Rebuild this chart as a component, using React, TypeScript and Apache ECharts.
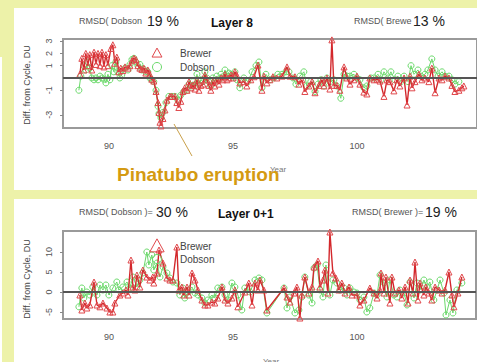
import React, { useEffect, useRef } from "react";
import * as echarts from "echarts";

// ---------- data ----------
const YEAR_LABELS = [90, 95, 100];
const L8_TICKS = [-3, -1, 1, 2, 3];
const L01_TICKS = [-5, 0, 5, 10];

const brewerL8: [number, number][] = [
  [88.83, 0.3], [88.91, 1.6], [88.99, 0.65], [89.07, 2.0], [89.15, 1.0], [89.23, 1.9], [89.31, 0.65], [89.4, 2.1],
  [89.48, 1.1], [89.56, 2.0], [89.64, 1.0], [89.72, 2.1], [89.8, 0.9], [89.88, 1.9], [89.96, 1.0], [90.08, 2.4],
  [90.16, 2.7], [90.24, 1.2], [90.32, 1.7], [90.4, 0.5], [90.48, 0.8], [90.56, 0.6], [90.65, 0.9], [90.77, 0.8],
  [90.85, 1.0], [90.93, 1.4], [91.01, 1.6], [91.09, 1.5], [91.17, 1.0], [91.25, 0.8], [91.33, 0.7], [91.41, 0.8],
  [91.49, 0.4], [91.57, 0.65], [91.65, 0.3], [91.73, -0.1], [91.81, -0.25], [91.9, -1.1], [91.98, -2.0], [92.02, -2.8],
  [92.06, -3.6], [92.1, -3.9], [92.18, -3.3], [92.26, -2.6], [92.34, -1.8], [92.46, -1.5], [92.54, -1.5], [92.66, -1.5],
  [92.74, -2.0], [92.82, -2.4], [92.9, -1.9], [92.98, -1.1], [93.06, -0.8], [93.15, -1.0], [93.23, -0.3], [93.31, -0.8],
  [93.39, -0.6], [93.47, -0.9], [93.55, -0.15], [93.63, -1.0], [93.71, -0.6], [93.79, -0.5], [93.87, 0.25], [93.95, -0.15],
  [94.03, -0.6], [94.11, -1.0], [94.19, -0.3], [94.27, -0.65], [94.35, -0.15], [94.44, -0.5], [94.52, 0], [94.6, -0.15],
  [94.68, 0.3], [94.76, -0.15], [94.84, 0], [94.92, 0.25], [95.0, 0], [95.08, 0.5], [95.16, 0.2], [95.28, -0.4],
  [95.44, -0.3], [95.56, -0.65], [95.72, -0.15], [95.85, 0.1], [96.01, 1.05], [96.17, -1.0], [96.25, 0.15], [96.37, -0.4],
  [96.49, -0.15], [96.61, 0.1], [96.77, 0], [96.98, 0.15], [97.18, 0.9], [97.3, 0.15], [97.5, 0.1], [97.66, -0.5],
  [97.78, -0.15], [97.9, -1.1], [98.06, -0.65], [98.19, -0.3], [98.31, -1.2], [98.47, -0.6], [98.59, -0.15], [98.67, -0.65],
  [98.79, 0], [98.91, -0.9], [98.99, 3.1], [99.07, -0.6], [99.19, -0.6], [99.31, -1.0], [99.48, 0.9], [99.6, 0],
  [99.72, -0.5], [99.88, -0.15], [100.0, 0.15], [100.12, -0.5], [100.28, -1.15], [100.4, -1.3], [100.52, 0], [100.69, -0.15],
  [100.81, -0.1], [100.93, -0.25], [101.09, -1.5], [101.21, -0.15], [101.33, -0.3], [101.49, -1.05], [101.61, -0.15], [101.73, -0.65],
  [101.9, 0], [102.02, -2.2], [102.14, 0.15], [102.22, -0.8], [102.34, -0.3], [102.5, 0.3], [102.62, -0.15], [102.74, 0],
  [102.9, -0.3], [103.02, 0.8], [103.15, -1.2], [103.31, 0], [103.43, -0.15], [103.55, 0.15], [103.71, 0], [103.83, -0.6],
  [103.95, -1.1], [104.11, -1.0], [104.23, -0.8], [104.31, -0.65],
];

const dobsonL8: [number, number][] = [
  [88.79, -1.0], [88.87, 0.15], [88.99, 1.0], [89.07, 0.65], [89.15, 1.3], [89.23, 0.8], [89.31, 0], [89.4, -0.15],
  [89.48, 0], [89.56, -0.15], [89.64, 0.15], [89.72, 0], [89.8, -0.1], [89.88, -0.4], [89.96, 0.3], [90.04, -0.15],
  [90.12, 1.0], [90.2, 0.5], [90.28, 1.3], [90.36, 0.5], [90.44, 0], [90.52, 0.25], [90.65, 0.8], [90.77, 0.65],
  [90.85, 1.1], [90.93, 1.5], [91.01, 1.6], [91.09, 1.3], [91.17, 1.0], [91.25, 1.1], [91.33, 0.65], [91.41, 0.7],
  [91.49, 0.5], [91.57, 0.5], [91.65, 0], [91.73, -0.15], [91.81, -0.3], [91.9, -1.0], [91.98, -2.3], [92.02, -2.9],
  [92.1, -3.25], [92.18, -2.8], [92.3, -2.0], [92.42, -1.5], [92.54, -1.5], [92.66, -1.5], [92.78, -1.8], [92.9, -1.4],
  [93.02, -1.1], [93.15, -1.0], [93.23, -0.5], [93.31, -0.65], [93.39, -0.3], [93.47, -0.65], [93.55, 0.3], [93.63, -0.5],
  [93.71, -0.15], [93.79, -0.3], [93.87, 0.5], [93.95, 0], [94.03, -0.3], [94.11, -0.65], [94.19, 0], [94.27, -0.3],
  [94.35, 0.15], [94.44, -0.15], [94.52, 0.3], [94.6, 0.1], [94.68, 0.65], [94.76, 0.15], [94.84, 0.4], [94.92, 0.3],
  [95.0, 0.15], [95.08, 0.5], [95.16, -0.15], [95.28, -0.8], [95.44, 0], [95.6, -0.3], [95.77, 0.5], [95.93, 1.0],
  [96.05, 1.3], [96.17, -0.8], [96.33, 0.3], [96.49, -0.15], [96.65, 0], [96.81, 0.3], [96.98, 0.3], [97.14, 0.5],
  [97.26, 0.5], [97.42, 0], [97.54, -0.5], [97.7, 0.15], [97.86, 0.5], [97.98, -0.65], [98.14, -0.3], [98.31, -1.1],
  [98.43, -0.5], [98.55, -0.15], [98.67, -0.65], [98.79, 0], [98.91, -0.3], [99.07, -0.15], [99.19, -0.65], [99.35, -1.65],
  [99.48, 0.3], [99.6, 0.15], [99.72, 0.15], [99.88, 0.3], [100.0, 0], [100.12, -0.15], [100.28, -0.8], [100.4, -0.65],
  [100.56, 0], [100.69, 0], [100.85, 0.3], [100.97, -0.15], [101.09, 0.5], [101.25, 0], [101.37, 0.5], [101.53, -0.15],
  [101.65, 0.15], [101.77, -0.3], [101.9, 0.15], [102.06, -0.3], [102.18, 1.0], [102.3, 0.3], [102.46, 0.65], [102.58, 0.15],
  [102.74, 0.3], [102.86, 0.65], [103.02, 1.55], [103.15, 0.65], [103.27, 0.15], [103.43, 0.5], [103.55, 0.15], [103.71, 0.15],
  [103.83, -0.15], [103.95, -0.5], [104.11, -0.3],
];

const brewerL01: [number, number][] = [
  [88.83, -0.75], [88.91, -4.5], [89.03, -2.75], [89.11, -4], [89.23, -3.25], [89.4, 2.5], [89.52, -3.25], [89.64, -3.7],
  [89.76, -2.75], [89.92, -4], [90.04, -5], [90.16, -5], [90.24, -2.75], [90.44, -0.75], [90.56, -0.25], [90.69, 0.5],
  [90.77, -0.75], [90.89, 8], [90.97, 1.25], [91.05, 0.5], [91.13, 4.25], [91.25, 1.25], [91.37, 5.5], [91.53, 3.75],
  [91.65, 3], [91.77, 3.75], [91.81, 2.25], [91.94, 4.75], [92.02, 10.5], [92.18, 7.25], [92.34, 3.5], [92.46, 3],
  [92.58, 3], [92.74, 11.25], [92.82, 0.5], [92.94, 1.25], [93.02, -0.75], [93.15, 1.25], [93.23, -0.75], [93.35, 4.75],
  [93.47, 3], [93.59, 0.5], [93.75, -2], [93.87, -3.25], [93.99, -3.25], [94.15, -2.5], [94.27, -2.75], [94.39, -1.5],
  [94.56, 1.25], [94.68, -2], [94.8, -2.75], [94.96, -1.5], [95.08, 0.5], [95.2, -3.7],
  [95.48, 0], [95.64, 2.25], [95.77, -3.25], [95.89, 2.25], [96.01, 0.5], [96.09, 3], [96.25, 0.5], [96.37, -4.5],
  [97.06, 1], [97.18, -1.25], [97.3, -2.5], [97.46, -0.25], [97.58, 1.25], [97.7, -6.5], [97.78, -0.75], [97.9, 3.75],
  [98.06, -0.25], [98.19, 1.25], [98.27, 6.25], [98.43, 7.75], [98.51, 1.25], [98.63, 3], [98.71, 5.5], [98.83, -0.25],
  [98.91, 15], [99.03, 4.75], [99.15, 3.5], [99.27, 0.5], [99.39, 2.25], [99.52, -0.25], [99.68, 1.25], [99.8, -0.75],
  [100.0, -0.75], [100.12, -3.25], [100.28, -2], [100.52, 1], [100.69, -0.25], [100.81, -1.5], [100.93, 0.5], [100.97, 4.75],
  [101.09, -0.25], [101.17, 3.75], [101.33, -2.75], [101.41, 3.75], [101.53, -0.25], [101.69, 0.5], [101.81, -1.5], [101.94, 1.25],
  [102.06, -2.75], [102.14, 3], [102.26, -0.25], [102.34, 7.5], [102.46, -2], [102.54, 2.25], [102.7, -0.75], [102.78, 1.25],
  [102.9, -0.25], [103.02, -2], [103.15, 1.25], [103.31, 0.5], [103.43, -0.25], [103.55, 0.5], [103.71, 5], [103.83, -0.75],
  [103.91, -3.7], [104.07, -0.25], [104.23, 3.75],
];

const dobsonL01: [number, number][] = [
  [88.79, -3.7], [88.91, 1], [88.99, -1.5], [89.11, 0], [89.23, -0.75], [89.35, 1.25], [89.52, -0.75], [89.64, 1.75],
  [89.76, 0.5], [89.88, 1.75], [90.0, -0.75], [90.16, 1], [90.32, 2.5], [90.4, 0.5], [90.56, 1.25], [90.73, 2.5],
  [90.85, 1], [90.97, 3.75], [91.13, 1.25], [91.25, 3], [91.37, 4.75], [91.53, 10], [91.61, 6.75], [91.73, 9.25],
  [91.81, 5.5], [91.94, 7.25], [92.06, 3.75], [92.18, 6.25], [92.34, 4.75], [92.46, 3.5], [92.58, 2.5], [92.74, 2.25],
  [92.86, -0.75], [92.98, 1], [93.06, -1.5], [93.19, 0], [93.35, 1.25], [93.47, -0.25], [93.59, -0.75], [93.75, -1.5],
  [93.87, -2.75], [93.99, -2], [94.15, -0.75], [94.27, -1.5], [94.39, 1], [94.56, 1.25], [94.68, -0.75], [94.8, -2],
  [94.96, 2.25], [95.08, 1.25], [95.2, -0.75],
  [95.36, -4.5], [95.48, 1], [95.69, 0], [95.89, 3], [96.05, 3.5], [96.17, 3], [96.37, -5.25], [97.06, 1],
  [97.18, -4], [97.3, -1.25], [97.5, -5.25], [97.66, -4.5], [97.78, -1.25], [97.9, 3.75], [98.06, -0.75], [98.19, -2.75],
  [98.27, 6], [98.39, 6.75], [98.51, 0.5], [98.63, -1.25], [98.75, 6.75], [98.91, -0.75], [99.03, 3], [99.19, 2.25],
  [99.31, 0.5], [99.48, 1], [99.6, -0.75], [99.72, 1], [99.88, 0], [100.0, -0.25], [100.12, -2], [100.28, -1.25],
  [100.4, -5], [100.52, -4], [100.69, -0.25], [100.81, -0.75], [100.93, 4.25], [101.09, 2.25], [101.21, -1.25], [101.33, 3],
  [101.49, -0.75], [101.61, -1.25], [101.73, 0.5], [101.9, -0.25], [102.02, -3.25], [102.14, 2.5], [102.3, -1.5], [102.42, 2.25],
  [102.54, 0.5], [102.7, 3], [102.82, 1.25], [102.94, 2.5], [103.1, -2], [103.23, 0.5], [103.35, 3], [103.51, -0.25],
  [103.59, -5.75], [103.75, -2], [103.87, -5.25], [104.03, 0.5], [104.23, 2.25],
];

const PANELS = [
  { layer: "Layer 8", dobsonLabel: "RMSD( Dobson", dobsonPct: "19 %", brewerLabel: "RMSD( Brewe", brewerPct: "13 %" },
  { layer: "Layer 0+1", dobsonLabel: "RMSD( Dobson )=", dobsonPct: "30 %", brewerLabel: "RMSD( Brewer )=", brewerPct: "19 %" },
];
const Y_TITLE = "Diff. from Cycle, DU";
const X_TITLE = "Year";
const ANNOTATION = "Pinatubo eruption";
const LEGEND_NAMES = ["Brewer", "Dobson"];

// ---------- styles ----------
const FONT = "'Liberation Sans', Arial, Helvetica, sans-serif";
const RED_LINE = "#d3282c";
const RED_MARK = "#e0484c";
const GREEN = "#6ad96a";
const BG = "#edf2a9";

export default function App() {
  const ref = useRef<HTMLDivElement>(null);

  useEffect(() => {
    if (!ref.current) return;
    const chart = echarts.init(ref.current, undefined, { renderer: "svg" });

    const grids = [
      { left: 63, top: 39, width: 414, height: 89 },
      { left: 63, top: 231, width: 413, height: 88 },
    ];
    const yRanges = [
      { min: -4.07, max: 3.17, ticks: L8_TICKS },
      { min: -6.75, max: 15.25, ticks: L01_TICKS },
    ];
    const xMax = [104.84, 104.8];

    const mkLine = (data: [number, number][], idx: number, kind: "b" | "d") => ({
      type: "line",
      name: kind === "b" ? LEGEND_NAMES[0] : LEGEND_NAMES[1],
      xAxisIndex: idx,
      yAxisIndex: idx,
      data,
      symbol: kind === "b" ? "triangle" : "circle",
      symbolSize: kind === "b" ? 6 : 6,
      showAllSymbol: true,
      z: kind === "b" ? 4 : 3,
      lineStyle: { color: kind === "b" ? RED_LINE : GREEN, width: kind === "b" ? 1.4 : 1 },
      itemStyle: {
        color: "rgba(0,0,0,0)",
        borderColor: kind === "b" ? RED_MARK : GREEN,
        borderWidth: 1,
      },
      emphasis: { disabled: true },
      ...(kind === "b"
        ? {
            markLine: {
              silent: true,
              symbol: ["none", "none"],
              label: { show: false },
              lineStyle: { color: "#555", width: 2, type: "solid" },
              data: [{ yAxis: 0 }],
            },
          }
        : {}),
    });

    const headerTexts: any[] = [];
    const panelTops = [21, 212];
    PANELS.forEach((p, i) => {
      const y = panelTops[i];
      const small = { fill: "#555", font: `9px ${FONT}`, verticalAlign: "middle" };
      const big = { fill: "#222", font: `14px ${FONT}`, verticalAlign: "middle" };
      const dl = i === 0 ? [79, 147] : [79, 156];
      const bl = i === 0 ? [354, 413] : [352, 425];
      const lx = i === 0 ? 211 : 218;
      headerTexts.push(
        { type: "text", x: dl[0], y, z: 50, style: { ...small, text: p.dobsonLabel, textAlign: "left" } },
        { type: "text", x: dl[1], y, z: 50, style: { ...big, text: p.dobsonPct, textAlign: "left" } },
        { type: "text", x: lx, y: y + 2, z: 50, style: { fill: "#111", font: `bold 12px ${FONT}`, verticalAlign: "middle", text: p.layer, textAlign: "left" } },
        { type: "text", x: bl[0], y, z: 50, style: { ...small, text: p.brewerLabel, textAlign: "left" } },
        { type: "text", x: bl[1], y, z: 50, style: { ...big, text: p.brewerPct, textAlign: "left" } }
      );
    });

    const yTitles = [85, 279].map((cy) => ({
      type: "text",
      x: 27,
      y: cy,
      rotation: Math.PI / 2,
      z: 50,
      style: { text: Y_TITLE, fill: "#444", font: `9px ${FONT}`, textAlign: "center", verticalAlign: "middle" },
    }));

    const legend = (cx: number, y1: number, y2: number, triSize: number) => [
      {
        type: "polygon",
        z: 60,
        shape: {
          points: [
            [cx, y1 - triSize * 0.55],
            [cx - triSize * 0.55, y1 + triSize * 0.45],
            [cx + triSize * 0.55, y1 + triSize * 0.45],
          ],
        },
        style: { fill: "none", stroke: RED_MARK, lineWidth: 1 },
      },
      { type: "circle", z: 60, shape: { cx, cy: y2, r: 4.5 }, style: { fill: "none", stroke: GREEN, lineWidth: 1 } },
      { type: "text", x: cx + 23, y: y1, z: 60, style: { text: LEGEND_NAMES[0], fill: "#444", font: `10px ${FONT}`, verticalAlign: "middle" } },
      { type: "text", x: cx + 23, y: y2, z: 60, style: { text: LEGEND_NAMES[1], fill: "#444", font: `10px ${FONT}`, verticalAlign: "middle" } },
    ];

    const option: any = {
      animation: false,
      backgroundColor: BG,
      grid: grids.map((g) => ({
        ...g,
        show: true,
        backgroundColor: "#fff",
        borderColor: "#9a9a9a",
        borderWidth: 2,
      })),
      xAxis: grids.map((_, i) => ({
        type: "value",
        gridIndex: i,
        min: 88.15,
        max: xMax[i],
        axisLine: { show: false },
        splitLine: { show: false },
        axisTick: { show: true, customValues: YEAR_LABELS, length: 3, lineStyle: { color: "#888" } },
        axisLabel: { customValues: YEAR_LABELS, fontSize: 9, color: "#555", margin: 13, fontFamily: FONT },
      })),
      yAxis: grids.map((_, i) => ({
        type: "value",
        gridIndex: i,
        min: yRanges[i].min,
        max: yRanges[i].max,
        axisLine: { show: false },
        splitLine: { show: false },
        axisTick: { show: true, customValues: yRanges[i].ticks, length: 3, lineStyle: { color: "#888" } },
        axisLabel: { customValues: yRanges[i].ticks, fontSize: 9, color: "#555", margin: 10, rotate: 90, fontFamily: FONT },
      })),
      series: [
        mkLine(dobsonL8, 0, "d"),
        mkLine(brewerL8, 0, "b"),
        mkLine(dobsonL01, 1, "d"),
        mkLine(brewerL01, 1, "b"),
      ],
      graphic: [
        { type: "rect", z: -10, shape: { x: 14, y: 8, width: 463, height: 182 }, style: { fill: "#fff" } },
        { type: "rect", z: -10, shape: { x: 14, y: 199, width: 463, height: 163 }, style: { fill: "#fff" } },
        { type: "rect", z: -10, shape: { x: 0, y: 57, width: 2, height: 305 }, style: { fill: "#fff" } },
        ...headerTexts,
        ...yTitles,
        ...legend(157, 53, 67, 9),
        ...legend(157, 246, 259, 13),
        { type: "text", x: 270, y: 169, z: 50, style: { text: X_TITLE, fill: "#777", font: `8px ${FONT}`, verticalAlign: "middle" } },
        { type: "text", x: 263, y: 361, z: 50, style: { text: X_TITLE, fill: "#777", font: `8px ${FONT}`, verticalAlign: "middle" } },
        { type: "line", z: 70, shape: { x1: 192, y1: 156, x2: 174, y2: 124 }, style: { stroke: "#c9a04a", lineWidth: 1 } },
        {
          type: "text",
          x: 117,
          y: 174,
          z: 80,
          style: { text: ANNOTATION, fill: "#d49a12", font: `bold 19px ${FONT}`, verticalAlign: "middle", textAlign: "left" },
        },
      ],
    };

    chart.setOption(option);
    return () => chart.dispose();
  }, []);

  return <div ref={ref} style={{ position: "fixed", left: 0, top: 0, width: 477, height: 362 }} />;
}
